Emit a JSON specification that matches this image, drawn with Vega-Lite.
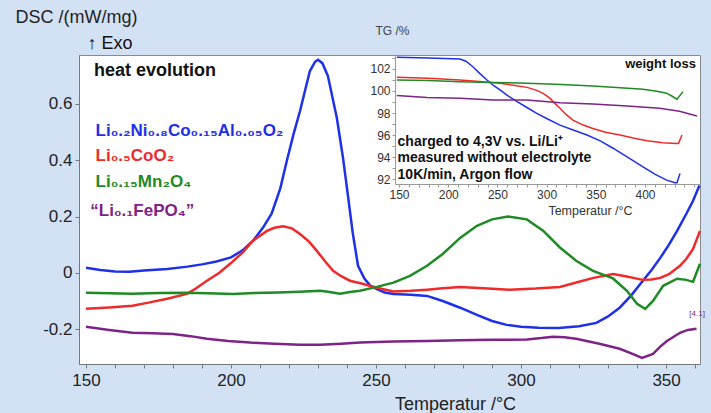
{
  "$schema": "https://vega.github.io/schema/vega-lite/v6.json",
  "width": 621,
  "height": 309,
  "autosize": {"type": "none"},
  "padding": {"left": 79, "top": 55, "right": 11, "bottom": 49},
  "background": "#d2e1f4",
  "config": {
    "view": {"fill": "white", "stroke": "#8a8a8a", "strokeWidth": 1},
    "font": "Liberation Sans"
  },
  "datasets": {
    "main": [
      {"T": 150, "v": 0.018, "s": "NCA"}, {"T": 155, "v": 0.01, "s": "NCA"}, {"T": 160, "v": 0.005, "s": "NCA"}, {"T": 165, "v": 0.004, "s": "NCA"}, {"T": 170, "v": 0.008, "s": "NCA"}, {"T": 178, "v": 0.014, "s": "NCA"}, {"T": 185, "v": 0.022, "s": "NCA"}, {"T": 190, "v": 0.03, "s": "NCA"}, {"T": 195, "v": 0.04, "s": "NCA"}, {"T": 200, "v": 0.055, "s": "NCA"}, {"T": 204, "v": 0.08, "s": "NCA"}, {"T": 207.6, "v": 0.114, "s": "NCA"}, {"T": 211, "v": 0.16, "s": "NCA"}, {"T": 214, "v": 0.21, "s": "NCA"}, {"T": 217, "v": 0.3, "s": "NCA"}, {"T": 219.3, "v": 0.4, "s": "NCA"}, {"T": 221.5, "v": 0.49, "s": "NCA"}, {"T": 223.8, "v": 0.575, "s": "NCA"}, {"T": 227.2, "v": 0.717, "s": "NCA"}, {"T": 229, "v": 0.75, "s": "NCA"}, {"T": 230, "v": 0.757, "s": "NCA"}, {"T": 231.5, "v": 0.745, "s": "NCA"}, {"T": 233.4, "v": 0.7, "s": "NCA"}, {"T": 236.5, "v": 0.55, "s": "NCA"}, {"T": 238.6, "v": 0.41, "s": "NCA"}, {"T": 240, "v": 0.3, "s": "NCA"}, {"T": 242, "v": 0.14, "s": "NCA"}, {"T": 243.8, "v": 0.025, "s": "NCA"}, {"T": 246, "v": -0.02, "s": "NCA"}, {"T": 248, "v": -0.045, "s": "NCA"}, {"T": 250.3, "v": -0.058, "s": "NCA"}, {"T": 253, "v": -0.07, "s": "NCA"}, {"T": 256, "v": -0.075, "s": "NCA"}, {"T": 262, "v": -0.078, "s": "NCA"}, {"T": 267.6, "v": -0.082, "s": "NCA"}, {"T": 273, "v": -0.1, "s": "NCA"}, {"T": 279, "v": -0.124, "s": "NCA"}, {"T": 285, "v": -0.15, "s": "NCA"}, {"T": 290, "v": -0.171, "s": "NCA"}, {"T": 295, "v": -0.185, "s": "NCA"}, {"T": 300, "v": -0.192, "s": "NCA"}, {"T": 306, "v": -0.195, "s": "NCA"}, {"T": 313, "v": -0.196, "s": "NCA"}, {"T": 320, "v": -0.19, "s": "NCA"}, {"T": 326, "v": -0.178, "s": "NCA"}, {"T": 330, "v": -0.155, "s": "NCA"}, {"T": 334, "v": -0.124, "s": "NCA"}, {"T": 338, "v": -0.08, "s": "NCA"}, {"T": 342, "v": -0.028, "s": "NCA"}, {"T": 345, "v": 0.01, "s": "NCA"}, {"T": 348, "v": 0.053, "s": "NCA"}, {"T": 351, "v": 0.1, "s": "NCA"}, {"T": 353.8, "v": 0.149, "s": "NCA"}, {"T": 357, "v": 0.21, "s": "NCA"}, {"T": 359.3, "v": 0.256, "s": "NCA"}, {"T": 361.5, "v": 0.31, "s": "NCA"},
      {"T": 150, "v": -0.128, "s": "LCO"}, {"T": 158, "v": -0.123, "s": "LCO"}, {"T": 166, "v": -0.117, "s": "LCO"}, {"T": 172, "v": -0.105, "s": "LCO"}, {"T": 178, "v": -0.092, "s": "LCO"}, {"T": 184.8, "v": -0.075, "s": "LCO"}, {"T": 188, "v": -0.055, "s": "LCO"}, {"T": 191.7, "v": -0.028, "s": "LCO"}, {"T": 196, "v": 0.0, "s": "LCO"}, {"T": 199.7, "v": 0.032, "s": "LCO"}, {"T": 204, "v": 0.072, "s": "LCO"}, {"T": 207.6, "v": 0.114, "s": "LCO"}, {"T": 212.4, "v": 0.149, "s": "LCO"}, {"T": 215, "v": 0.16, "s": "LCO"}, {"T": 218, "v": 0.165, "s": "LCO"}, {"T": 221, "v": 0.158, "s": "LCO"}, {"T": 223.8, "v": 0.138, "s": "LCO"}, {"T": 227, "v": 0.11, "s": "LCO"}, {"T": 229.6, "v": 0.078, "s": "LCO"}, {"T": 232.5, "v": 0.04, "s": "LCO"}, {"T": 235.2, "v": 0.007, "s": "LCO"}, {"T": 238, "v": -0.012, "s": "LCO"}, {"T": 241, "v": -0.028, "s": "LCO"}, {"T": 245, "v": -0.038, "s": "LCO"}, {"T": 250.3, "v": -0.053, "s": "LCO"}, {"T": 256, "v": -0.066, "s": "LCO"}, {"T": 262, "v": -0.064, "s": "LCO"}, {"T": 267.6, "v": -0.06, "s": "LCO"}, {"T": 273, "v": -0.055, "s": "LCO"}, {"T": 279, "v": -0.05, "s": "LCO"}, {"T": 287, "v": -0.055, "s": "LCO"}, {"T": 296, "v": -0.06, "s": "LCO"}, {"T": 305, "v": -0.056, "s": "LCO"}, {"T": 313.4, "v": -0.05, "s": "LCO"}, {"T": 320, "v": -0.032, "s": "LCO"}, {"T": 325, "v": -0.018, "s": "LCO"}, {"T": 331.7, "v": -0.004, "s": "LCO"}, {"T": 336, "v": -0.012, "s": "LCO"}, {"T": 342, "v": -0.025, "s": "LCO"}, {"T": 345, "v": -0.024, "s": "LCO"}, {"T": 348, "v": -0.018, "s": "LCO"}, {"T": 351, "v": -0.005, "s": "LCO"}, {"T": 354.8, "v": 0.025, "s": "LCO"}, {"T": 357, "v": 0.05, "s": "LCO"}, {"T": 359.3, "v": 0.085, "s": "LCO"}, {"T": 361.7, "v": 0.149, "s": "LCO"},
      {"T": 150, "v": -0.071, "s": "LMO"}, {"T": 158, "v": -0.073, "s": "LMO"}, {"T": 166, "v": -0.074, "s": "LMO"}, {"T": 175, "v": -0.072, "s": "LMO"}, {"T": 184, "v": -0.071, "s": "LMO"}, {"T": 192, "v": -0.073, "s": "LMO"}, {"T": 200.7, "v": -0.075, "s": "LMO"}, {"T": 208, "v": -0.072, "s": "LMO"}, {"T": 216, "v": -0.07, "s": "LMO"}, {"T": 223.8, "v": -0.067, "s": "LMO"}, {"T": 230.7, "v": -0.064, "s": "LMO"}, {"T": 234, "v": -0.068, "s": "LMO"}, {"T": 237.6, "v": -0.074, "s": "LMO"}, {"T": 241, "v": -0.068, "s": "LMO"}, {"T": 244.5, "v": -0.064, "s": "LMO"}, {"T": 250.3, "v": -0.05, "s": "LMO"}, {"T": 256, "v": -0.035, "s": "LMO"}, {"T": 261.7, "v": -0.011, "s": "LMO"}, {"T": 267.6, "v": 0.025, "s": "LMO"}, {"T": 273, "v": 0.067, "s": "LMO"}, {"T": 279, "v": 0.124, "s": "LMO"}, {"T": 284.8, "v": 0.167, "s": "LMO"}, {"T": 290, "v": 0.19, "s": "LMO"}, {"T": 295.5, "v": 0.2, "s": "LMO"}, {"T": 302, "v": 0.19, "s": "LMO"}, {"T": 307.6, "v": 0.15, "s": "LMO"}, {"T": 313.4, "v": 0.09, "s": "LMO"}, {"T": 319, "v": 0.043, "s": "LMO"}, {"T": 324.8, "v": 0.007, "s": "LMO"}, {"T": 331.7, "v": -0.02, "s": "LMO"}, {"T": 336.5, "v": -0.064, "s": "LMO"}, {"T": 340, "v": -0.11, "s": "LMO"}, {"T": 342.8, "v": -0.128, "s": "LMO"}, {"T": 345.5, "v": -0.1, "s": "LMO"}, {"T": 349, "v": -0.046, "s": "LMO"}, {"T": 353.8, "v": -0.021, "s": "LMO"}, {"T": 357, "v": -0.025, "s": "LMO"}, {"T": 359.3, "v": -0.032, "s": "LMO"}, {"T": 361.7, "v": 0.032, "s": "LMO"},
      {"T": 150, "v": -0.192, "s": "LFP"}, {"T": 158, "v": -0.203, "s": "LFP"}, {"T": 166, "v": -0.213, "s": "LFP"}, {"T": 173, "v": -0.215, "s": "LFP"}, {"T": 180, "v": -0.217, "s": "LFP"}, {"T": 186, "v": -0.225, "s": "LFP"}, {"T": 191.7, "v": -0.234, "s": "LFP"}, {"T": 199, "v": -0.242, "s": "LFP"}, {"T": 206.6, "v": -0.248, "s": "LFP"}, {"T": 215, "v": -0.252, "s": "LFP"}, {"T": 223.8, "v": -0.256, "s": "LFP"}, {"T": 230.7, "v": -0.256, "s": "LFP"}, {"T": 238, "v": -0.252, "s": "LFP"}, {"T": 244.5, "v": -0.248, "s": "LFP"}, {"T": 256, "v": -0.244, "s": "LFP"}, {"T": 267.6, "v": -0.242, "s": "LFP"}, {"T": 279, "v": -0.24, "s": "LFP"}, {"T": 290, "v": -0.238, "s": "LFP"}, {"T": 302, "v": -0.237, "s": "LFP"}, {"T": 307, "v": -0.232, "s": "LFP"}, {"T": 311, "v": -0.227, "s": "LFP"}, {"T": 315, "v": -0.229, "s": "LFP"}, {"T": 319, "v": -0.234, "s": "LFP"}, {"T": 327, "v": -0.252, "s": "LFP"}, {"T": 334, "v": -0.27, "s": "LFP"}, {"T": 338, "v": -0.286, "s": "LFP"}, {"T": 341.7, "v": -0.302, "s": "LFP"}, {"T": 345.5, "v": -0.288, "s": "LFP"}, {"T": 348, "v": -0.262, "s": "LFP"}, {"T": 350.3, "v": -0.242, "s": "LFP"}, {"T": 354.8, "v": -0.213, "s": "LFP"}, {"T": 357.5, "v": -0.203, "s": "LFP"}, {"T": 360.5, "v": -0.199, "s": "LFP"}
    ],
    "formulas": [
      {"T": 153.3, "v": 0.504, "s": "NCA", "t": "Li₀.₂Ni₀.₈Co₀.₁₅Al₀.₀₅O₂"},
      {"T": 153.3, "v": 0.416, "s": "LCO", "t": "Li₀.₅CoO₂"},
      {"T": 153.3, "v": 0.323, "s": "LMO", "t": "Li₀.₁₅Mn₂O₄"},
      {"T": 151.5, "v": 0.218, "s": "LFP", "t": "“Li₀.₁FePO₄”"}
    ],
    "heading": [
      {"T": 152.8, "v": 0.718, "s": "label", "t": "heat evolution"}
    ],
    "exo": [
      {"T": 150.5, "v": 0.812, "s": "label", "t": "↑ Exo"}
    ],
    "tag": [
      {"T": 360.7, "v": -0.146, "s": "LFP", "t": "[4.1]"}
    ],
    "inset": [
      {"Ti": 147.7, "w": 103.06, "s": "NCA"}, {"Ti": 180, "w": 103.0, "s": "NCA"}, {"Ti": 212, "w": 102.9, "s": "NCA"}, {"Ti": 218, "w": 102.7, "s": "NCA"}, {"Ti": 225, "w": 102.2, "s": "NCA"}, {"Ti": 232, "w": 101.6, "s": "NCA"}, {"Ti": 239.4, "w": 101.0, "s": "NCA"}, {"Ti": 246, "w": 100.5, "s": "NCA"}, {"Ti": 252.6, "w": 100.1, "s": "NCA"}, {"Ti": 260, "w": 99.6, "s": "NCA"}, {"Ti": 270, "w": 99.03, "s": "NCA"}, {"Ti": 280, "w": 98.5, "s": "NCA"}, {"Ti": 290, "w": 97.97, "s": "NCA"}, {"Ti": 300, "w": 97.5, "s": "NCA"}, {"Ti": 313.6, "w": 96.9, "s": "NCA"}, {"Ti": 327, "w": 96.45, "s": "NCA"}, {"Ti": 341, "w": 96.0, "s": "NCA"}, {"Ti": 355, "w": 95.45, "s": "NCA"}, {"Ti": 367.5, "w": 94.8, "s": "NCA"}, {"Ti": 383, "w": 93.95, "s": "NCA"}, {"Ti": 398, "w": 93.1, "s": "NCA"}, {"Ti": 410, "w": 92.45, "s": "NCA"}, {"Ti": 422, "w": 91.9, "s": "NCA"}, {"Ti": 430.5, "w": 91.66, "s": "NCA"}, {"Ti": 432.5, "w": 91.66, "s": "NCA"}, {"Ti": 435.6, "w": 92.5, "s": "NCA"},
      {"Ti": 147.7, "w": 101.25, "s": "LCO"}, {"Ti": 180, "w": 101.15, "s": "LCO"}, {"Ti": 212, "w": 101.0, "s": "LCO"}, {"Ti": 235, "w": 100.85, "s": "LCO"}, {"Ti": 252.6, "w": 100.7, "s": "LCO"}, {"Ti": 268, "w": 100.5, "s": "LCO"}, {"Ti": 280, "w": 100.33, "s": "LCO"}, {"Ti": 287, "w": 100.15, "s": "LCO"}, {"Ti": 293, "w": 99.94, "s": "LCO"}, {"Ti": 298, "w": 99.7, "s": "LCO"}, {"Ti": 303.5, "w": 99.33, "s": "LCO"}, {"Ti": 308, "w": 98.9, "s": "LCO"}, {"Ti": 313.6, "w": 98.43, "s": "LCO"}, {"Ti": 320, "w": 97.85, "s": "LCO"}, {"Ti": 326.8, "w": 97.36, "s": "LCO"}, {"Ti": 336, "w": 96.95, "s": "LCO"}, {"Ti": 347, "w": 96.6, "s": "LCO"}, {"Ti": 360, "w": 96.25, "s": "LCO"}, {"Ti": 374.6, "w": 96.0, "s": "LCO"}, {"Ti": 388, "w": 95.72, "s": "LCO"}, {"Ti": 402, "w": 95.48, "s": "LCO"}, {"Ti": 418, "w": 95.3, "s": "LCO"}, {"Ti": 432.5, "w": 95.24, "s": "LCO"}, {"Ti": 434, "w": 95.24, "s": "LCO"}, {"Ti": 437.6, "w": 96.0, "s": "LCO"},
      {"Ti": 147.7, "w": 101.0, "s": "LMO"}, {"Ti": 180, "w": 100.95, "s": "LMO"}, {"Ti": 212, "w": 100.85, "s": "LMO"}, {"Ti": 245, "w": 100.78, "s": "LMO"}, {"Ti": 280, "w": 100.7, "s": "LMO"}, {"Ti": 315, "w": 100.58, "s": "LMO"}, {"Ti": 347, "w": 100.45, "s": "LMO"}, {"Ti": 375, "w": 100.3, "s": "LMO"}, {"Ti": 398, "w": 100.15, "s": "LMO"}, {"Ti": 412, "w": 99.98, "s": "LMO"}, {"Ti": 422, "w": 99.8, "s": "LMO"}, {"Ti": 428, "w": 99.5, "s": "LMO"}, {"Ti": 432.5, "w": 99.25, "s": "LMO"}, {"Ti": 438.6, "w": 99.94, "s": "LMO"},
      {"Ti": 147.7, "w": 99.58, "s": "LFP"}, {"Ti": 178.5, "w": 99.42, "s": "LFP"}, {"Ti": 212, "w": 99.33, "s": "LFP"}, {"Ti": 245.5, "w": 99.18, "s": "LFP"}, {"Ti": 280, "w": 99.18, "s": "LFP"}, {"Ti": 313.6, "w": 98.94, "s": "LFP"}, {"Ti": 347, "w": 98.82, "s": "LFP"}, {"Ti": 381.7, "w": 98.64, "s": "LFP"}, {"Ti": 415, "w": 98.43, "s": "LFP"}, {"Ti": 435, "w": 98.15, "s": "LFP"}, {"Ti": 452.8, "w": 97.73, "s": "LFP"}
    ],
    "insetNote": [
      {"Ti": 148.5, "w": 95.36, "s": "label", "t": "charged to 4,3V vs. Li/Li⁺"},
      {"Ti": 148.5, "w": 93.9, "s": "label", "t": "measured without electrolyte"},
      {"Ti": 148.5, "w": 92.36, "s": "label", "t": "10K/min, Argon flow"}
    ],
    "insetTag": [
      {"Ti": 451.8, "w": 102.45, "s": "label", "t": "weight loss"}
    ]
  },
  "resolve": {"scale": {"x": "independent", "y": "independent"}, "axis": {"x": "independent", "y": "independent"}},
  "layer": [
    {
      "encoding": {
        "x": {"field": "T", "type": "quantitative",
          "scale": {"domain": [147.6, 361.7], "nice": false, "zero": false},
          "axis": {"values": [150, 160, 170, 180, 190, 200, 210, 220, 230, 240, 250, 260, 270, 280, 290, 300, 310, 320, 330, 340, 350, 360],
            "labelExpr": "datum.value % 50 === 0 ? datum.label : ''",
            "title": "Temperatur /°C", "titleX": 376, "titleY": 45, "titleAlign": "center", "titleBaseline": "alphabetic",
            "titleFontSize": 18, "titleFontWeight": "normal", "titleColor": "#222222",
            "labelFontSize": 17, "labelColor": "#222222", "labelPadding": 4, "labelFlush": false, "labelOverlap": false,
            "tickSize": 4, "tickColor": "#777777", "domainColor": "#777777", "grid": false}},
        "y": {"field": "v", "type": "quantitative",
          "scale": {"domain": [-0.324, 0.774], "nice": false, "zero": false},
          "axis": {"values": [-0.2, 0, 0.2, 0.4, 0.6],
            "labelExpr": "toString(datum.value)",
            "title": "DSC /(mW/mg)", "titleAngle": 0, "titleAlign": "left", "titleBaseline": "middle", "titleX": -64, "titleY": -38,
            "titleFontSize": 18, "titleFontWeight": "normal", "titleColor": "#222222",
            "labelFontSize": 17, "labelColor": "#222222", "labelPadding": 3, "labelFlush": false, "labelOverlap": false,
            "tickSize": 4, "tickColor": "#777777", "domainColor": "#777777", "grid": false}},
        "color": {"field": "s", "type": "nominal", "legend": null,
          "scale": {"domain": ["NCA", "LCO", "LMO", "LFP", "label"], "range": ["#1e30e8", "#f02a2a", "#1f8a26", "#7e2388", "#111111"]}}
      },
      "layer": [
        {"data": {"name": "main"}, "mark": {"type": "line", "strokeWidth": 2.5}, "encoding": {"detail": {"field": "s"}}},
        {"data": {"name": "formulas"}, "mark": {"type": "text", "align": "left", "baseline": "middle", "fontSize": 17, "fontWeight": "bold", "font": "Liberation Sans"}, "encoding": {"text": {"field": "t"}}},
        {"data": {"name": "heading"}, "mark": {"type": "text", "align": "left", "baseline": "middle", "fontSize": 18, "fontWeight": "bold", "font": "Liberation Sans"}, "encoding": {"text": {"field": "t"}}},
        {"data": {"name": "exo"}, "mark": {"type": "text", "align": "left", "baseline": "middle", "fontSize": 18, "fontWeight": "normal", "font": "Liberation Sans", "clip": false}, "encoding": {"text": {"field": "t"}}},
        {"data": {"name": "tag"}, "mark": {"type": "text", "align": "center", "baseline": "middle", "fontSize": 8, "font": "Liberation Sans"}, "encoding": {"text": {"field": "t"}}}
      ]
    },
    {
      "encoding": {
        "x": {"field": "Ti", "type": "quantitative",
          "scale": {"domain": [145.9, 455.9], "range": [316, 621], "nice": false, "zero": false},
          "axis": {"orient": "bottom", "offset": -180,
            "values": [150, 160, 170, 180, 190, 200, 210, 220, 230, 240, 250, 260, 270, 280, 290, 300, 310, 320, 330, 340, 350, 360, 370, 380, 390, 400, 410, 420, 430, 440, 450],
            "labelExpr": "datum.value % 50 === 0 && datum.value <= 400 ? datum.label : ''",
            "title": "Temperatur /°C", "titleX": 511, "titleY": 30, "titleAlign": "center", "titleBaseline": "alphabetic",
            "titleFontSize": 12.5, "titleFontWeight": "normal", "titleColor": "#333333",
            "labelFontSize": 12, "labelColor": "#333333", "labelPadding": 2, "labelFlush": false, "labelOverlap": false,
            "tickSize": 3, "tickColor": "#999999", "domainColor": "#999999", "grid": false}},
        "y": {"field": "w", "type": "quantitative",
          "scale": {"domain": [91.55, 103.27], "range": [129, 0], "nice": false, "zero": false},
          "axis": {"orient": "left", "offset": -316,
            "values": [92, 93, 94, 95, 96, 97, 98, 99, 100, 101, 102, 103],
            "labelExpr": "datum.value % 2 === 0 ? datum.label : ''",
            "title": "TG /%", "titleAngle": 0, "titleAlign": "left", "titleBaseline": "middle", "titleX": -20, "titleY": -25,
            "titleFontSize": 12, "titleFontWeight": "normal", "titleColor": "#444444",
            "labelFontSize": 12, "labelColor": "#333333", "labelPadding": 2, "labelFlush": false, "labelOverlap": false,
            "tickSize": 3, "tickColor": "#999999", "domainColor": "#999999", "grid": false}},
        "color": {"field": "s", "type": "nominal", "legend": null}
      },
      "layer": [
        {"data": {"name": "inset"}, "mark": {"type": "line", "strokeWidth": 1.5}, "encoding": {"detail": {"field": "s"}}},
        {"data": {"name": "insetNote"}, "mark": {"type": "text", "align": "left", "baseline": "middle", "fontSize": 14, "fontWeight": "bold", "font": "Liberation Sans"}, "encoding": {"text": {"field": "t"}}},
        {"data": {"name": "insetTag"}, "mark": {"type": "text", "align": "right", "baseline": "middle", "fontSize": 13, "fontWeight": "bold", "font": "Liberation Sans"}, "encoding": {"text": {"field": "t"}}}
      ]
    }
  ]
}
